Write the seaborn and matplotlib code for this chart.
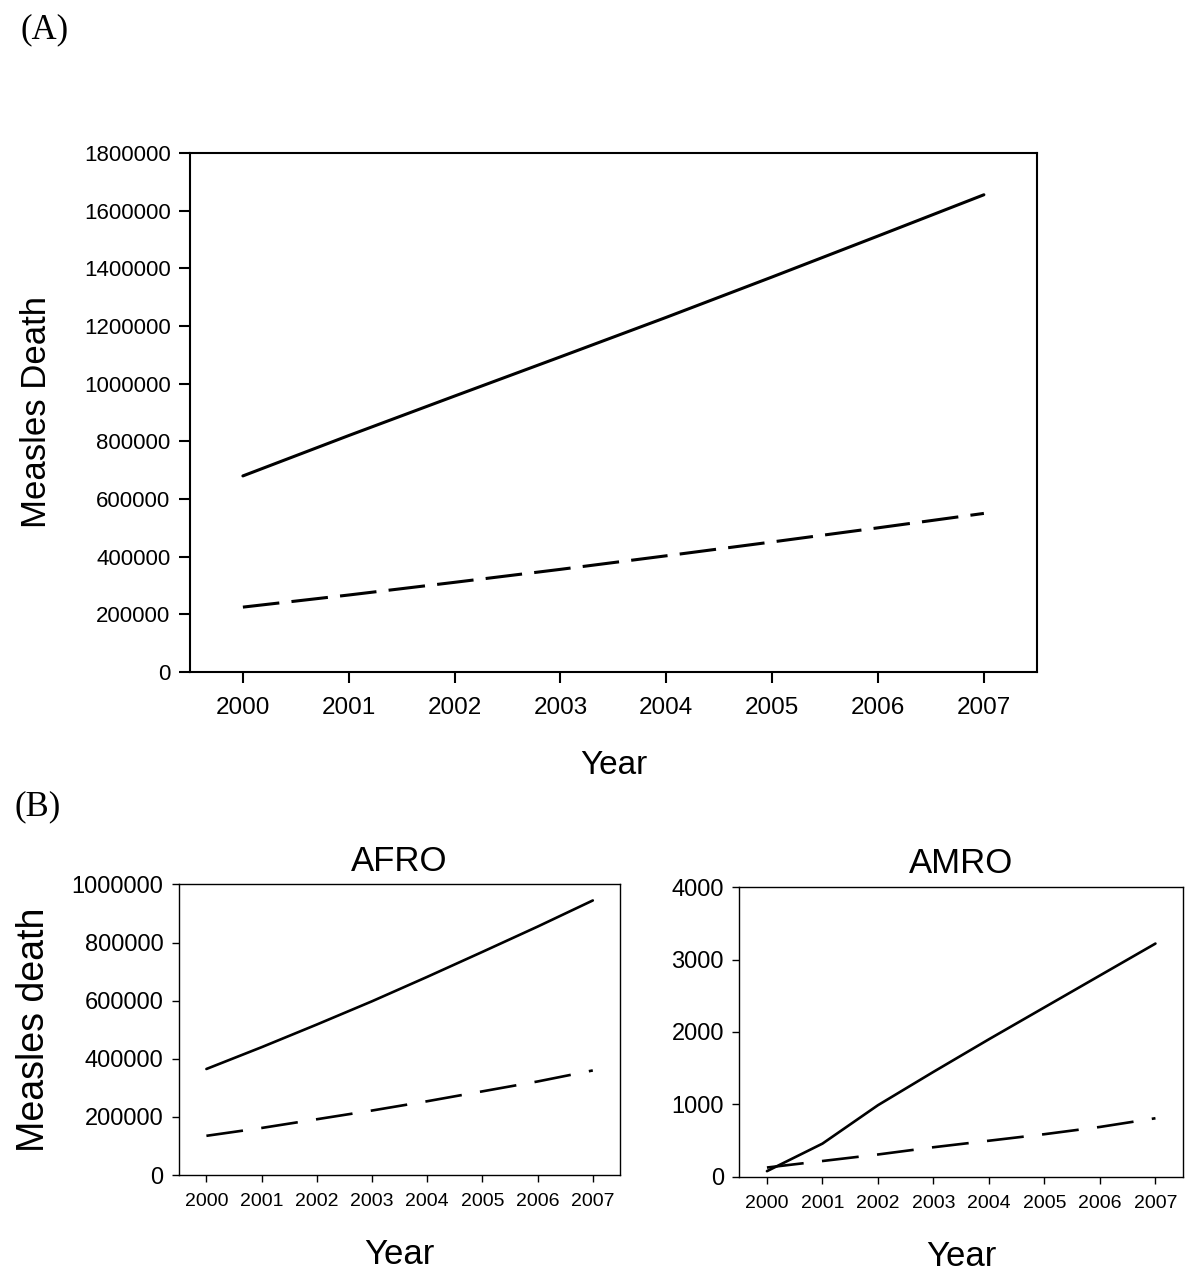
import numpy as np
import pandas as pd
import seaborn as sns
import matplotlib
matplotlib.use("Agg")
import matplotlib.pyplot as plt
from matplotlib.ticker import StrMethodFormatter, MultipleLocator

years = [2000, 2001, 2002, 2003, 2004, 2005, 2006, 2007]

global_solid = [680000, 820000, 957000, 1093000, 1230000, 1370000, 1512000, 1655000]
global_dashed = [225000, 267000, 311000, 356000, 403000, 451000, 500000, 550000]

afro_solid = [365000, 440000, 518000, 598000, 682000, 768000, 855000, 945000]
afro_dashed = [135000, 162000, 192000, 222000, 254000, 288000, 322000, 360000]

amro_solid = [80, 460, 990, 1450, 1900, 2340, 2780, 3220]
amro_dashed = [130, 220, 310, 410, 500, 590, 690, 810]

series_names = ["solid", "dashed"]


def make_df(solid, dashed):
    return pd.DataFrame({
        "Year": years * 2,
        "Deaths": list(solid) + list(dashed),
        "series": [series_names[0]] * len(years) + [series_names[1]] * len(years),
    })


sns.set_theme(style="ticks")
plt.rcParams["font.family"] = ["Liberation Sans", "DejaVu Sans"]
plt.rcParams["text.color"] = "black"
plt.rcParams["axes.labelcolor"] = "black"
plt.rcParams["xtick.color"] = "black"
plt.rcParams["ytick.color"] = "black"

fig = plt.figure(figsize=(12, 12.8), dpi=100)

ax_a = fig.add_axes([0.1583, 0.475, 0.864 - 0.1583, 0.8805 - 0.475])
ax_b1 = fig.add_axes([0.149, 0.082, 0.517 - 0.149, 0.309 - 0.082])
ax_b2 = fig.add_axes([0.616, 0.0805, 0.986 - 0.616, 0.307 - 0.0805])


def draw(ax, solid, dashed, lw, dash, axlw, ticklen, ylim, ystep,
         ytick_fs, xtick_fs, ylabel, ylabel_fs, ylabelpad, xlabelpad, xlabel_fs,
         xpad, title=None):
    df = make_df(solid, dashed)
    sns.lineplot(data=df, x="Year", y="Deaths", style="series",
                 dashes={"solid": "", "dashed": dash},
                 color="black", linewidth=lw, legend=False, ax=ax)
    ax.set_xlim(1999.5, 2007.5)
    ax.set_ylim(*ylim)
    ax.set_xticks(years)
    ax.set_xticklabels([str(y) for y in years], fontsize=xtick_fs)
    ax.yaxis.set_major_locator(MultipleLocator(ystep))
    ax.yaxis.set_major_formatter(StrMethodFormatter("{x:.0f}"))
    for lab in ax.get_yticklabels():
        lab.set_fontsize(ytick_fs)
    ax.tick_params(direction="out", length=ticklen, width=axlw, colors="black", pad=6)
    ax.tick_params(axis="x", pad=xpad)
    for sp in ax.spines.values():
        sp.set_visible(True)
        sp.set_linewidth(axlw)
        sp.set_color("black")
    ax.set_xlabel("Year", fontsize=xlabel_fs, labelpad=xlabelpad)
    ax.set_ylabel(ylabel, fontsize=ylabel_fs, labelpad=ylabelpad)
    if title:
        ax.set_title(title, fontsize=25, pad=10)


draw(ax_a, global_solid, global_dashed, lw=2.2, dash=(12, 4), axlw=1.5, ticklen=8,
     ylim=(0, 1800000), ystep=200000, ytick_fs=16, xtick_fs=17.5,
     ylabel="Measles Death", ylabel_fs=25, ylabelpad=22, xlabelpad=22, xlabel_fs=24,
     xpad=10)

draw(ax_b1, afro_solid, afro_dashed, lw=1.9, dash=(14, 7), axlw=1.0, ticklen=5,
     ylim=(0, 1000000), ystep=200000, ytick_fs=17, xtick_fs=14,
     ylabel="Measles death", ylabel_fs=27, ylabelpad=14, xlabelpad=20, xlabel_fs=25,
     xpad=8)

draw(ax_b2, amro_solid, amro_dashed, lw=1.9, dash=(14, 7), axlw=1.0, ticklen=5,
     ylim=(0, 4000), ystep=1000, ytick_fs=17, xtick_fs=14,
     ylabel="", ylabel_fs=27, ylabelpad=14, xlabelpad=20, xlabel_fs=25,
     xpad=8)

ax_b1.set_title("AFRO", fontsize=25, pad=10)
ax_b2.set_title("AMRO", fontsize=25, pad=10)

fig.text(0.017, 0.977, "(A)", fontsize=25, family=["Liberation Serif", "DejaVu Serif"],
         va="center", ha="left")
fig.text(0.012, 0.37, "(B)", fontsize=25, family=["Liberation Serif", "DejaVu Serif"],
         va="center", ha="left")

fig.savefig("out.png", dpi=100, facecolor="white")
